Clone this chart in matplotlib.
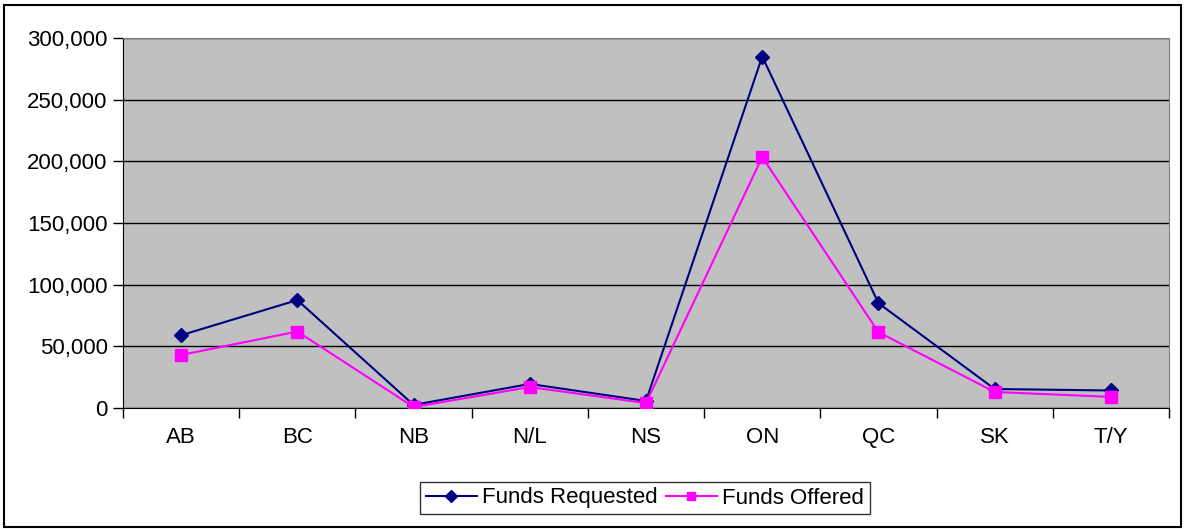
import matplotlib
matplotlib.use("Agg")
import matplotlib.pyplot as plt
from matplotlib.patches import Rectangle
from matplotlib.ticker import FuncFormatter, FixedLocator

categories = ["AB", "BC", "NB", "N/L", "NS", "ON", "QC", "SK", "T/Y"]
funds_requested = [59000, 87500, 2500, 19500, 5700, 285000, 85000, 15400, 14200]
funds_offered = [43000, 62000, 800, 17000, 4000, 203500, 61500, 13000, 9000]
yticks = [0, 50000, 100000, 150000, 200000, 250000, 300000]

plt.rcParams['font.family'] = ['Liberation Sans', 'DejaVu Sans']

fig = plt.figure(figsize=(11.84, 5.29), dpi=100)
ax = fig.add_axes([123/1184, 1 - 408/529, (1169-123)/1184, (408-38)/529])
ax.set_facecolor('#C0C0C0')

x = list(range(len(categories)))
ax.plot(x, funds_requested, color='#000080', marker='D', markersize=7.5, lw=1.5,
        label='Funds Requested', zorder=3)
ax.plot(x, funds_offered, color='#FF00FF', marker='s', markersize=8, lw=1.5,
        label='Funds Offered', zorder=3)

ax.set_xlim(-0.5, len(categories) - 0.5)
ax.set_ylim(0, 300000)
ax.set_yticks(yticks)
ax.yaxis.set_major_formatter(FuncFormatter(lambda v, p: f"{int(v):,}"))
ax.set_xticks(x)
ax.set_xticklabels(categories)
ax.xaxis.set_minor_locator(FixedLocator([i - 0.5 for i in range(len(categories) + 1)]))
ax.tick_params(axis='x', which='major', length=0, pad=14, labelsize=16)
ax.tick_params(axis='x', which='minor', length=7, width=1, direction='out')
ax.tick_params(axis='y', length=7, width=1, labelsize=16, pad=4)
ax.grid(axis='y', color='black', lw=1, zorder=1)
ax.set_axisbelow(True)
for s in ['top', 'right']:
    ax.spines[s].set_color('#808080')
for s in ['left', 'bottom']:
    ax.spines[s].set_color('#000000')

leg = fig.legend(loc='center', bbox_to_anchor=(645/1184, 1 - 498/529), ncol=2,
                 fontsize=16, frameon=True, fancybox=False, edgecolor='black',
                 handlelength=2.3, handletextpad=0.25, columnspacing=0.35,
                 borderpad=0.25, markerscale=0.8)
leg.get_frame().set_linewidth(1)

fig.patches.append(Rectangle((4/1184, 2/529), 1177/1184, 522/529, transform=fig.transFigure,
                             fill=False, edgecolor='black', lw=1.5))

fig.savefig('out.png', dpi=100)
